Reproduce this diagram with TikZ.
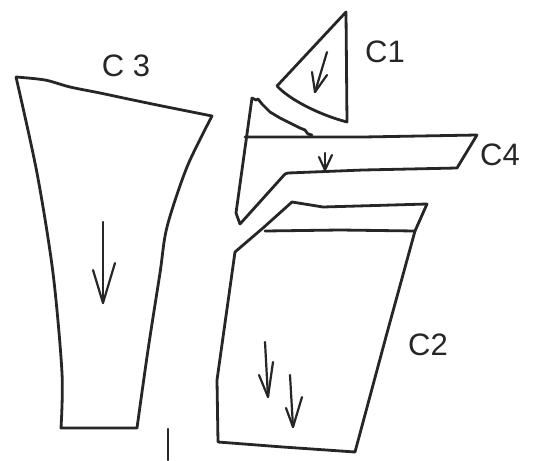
\documentclass[tikz,border=0pt]{standalone}
\usepackage{fontspec}
\setmainfont{Liberation Sans}
\begin{document}
\begin{tikzpicture}[x=1pt,y=-1pt,
  ink/.style={draw=black!85, line width=2.8pt, line join=round, line cap=round},
  barb/.style={draw=black!85, line width=2.2pt, line join=round, line cap=round},
  lbl/.style={text=black!85, font=\fontsize{31}{31}\selectfont, inner sep=0pt}]
\useasboundingbox (0,0) rectangle (542,461);
% C3 piece
\draw[ink] plot[smooth] coordinates {(16,77) (45,80) (70,87) (100,93) (133,100) (167,107) (212,116)}
  -- plot[smooth] coordinates {(212,116) (187,167) (167,227) (160,273) (148,350) (137,428)}
  -- (61,428)
  -- plot[smooth] coordinates {(61,428) (62,373) (53,273) (37,173) (16,77)};
\draw[barb] (103,222) -- (103,303);
\draw[barb] (93,270) -- (103,303) -- (115,263);
\node[lbl] (c3) at (126,66) {C 3};
% small mark below
\coordinate (m1) at (168,429);
\coordinate (m2) at (168,460);
\draw[barb] (m1) -- (m2);
% C1 piece
\draw[ink] (346,12) -- (347,122)
  .. controls (320,115) and (290,100) .. (277,86) -- cycle;
\draw[barb] (327,52) -- (315,92);
\draw[barb] (312,72) -- (315,92) -- (327,75);
\node[lbl] (c1) at (385,52) {C1};
% C4 piece
\draw[ink] (252,98) -- (256,100) -- (258,99) -- (262,104) -- (270,112) -- (280,118)
  -- (290,123) -- (300,128) -- (305,130) -- (308,134) -- (312,135);
\draw[ink] (245,137) -- (363,137) -- (477,135) -- (457,168) -- (363,170) -- (288,173) -- (285,174)
  -- (240,224) -- (236,213) -- (252,98);
\draw[barb] (325,153) -- (325,170);
\draw[barb] (319,157) -- (325,170) -- (332,155);
\node[lbl] (c4) at (500,155) {C4};
% C2 piece
\draw[ink] (292,202) -- (323,207) -- (427,204) -- (415,231) -- (387,333) -- (355,452)
  -- (283,447) -- (218,442) -- (217,380) -- (235,252) -- (263,228) -- cycle;
\draw[ink] (265,231) -- (340,230) -- (415,231);
\draw[barb] (265,342) -- (268,397);
\draw[barb] (259,375) -- (268,397) -- (273,362);
\draw[barb] (290,375) -- (293,427);
\draw[barb] (286,408) -- (293,427) -- (302,397);
\node[lbl] (c2) at (428,345) {C2};
\end{tikzpicture}
\end{document}
